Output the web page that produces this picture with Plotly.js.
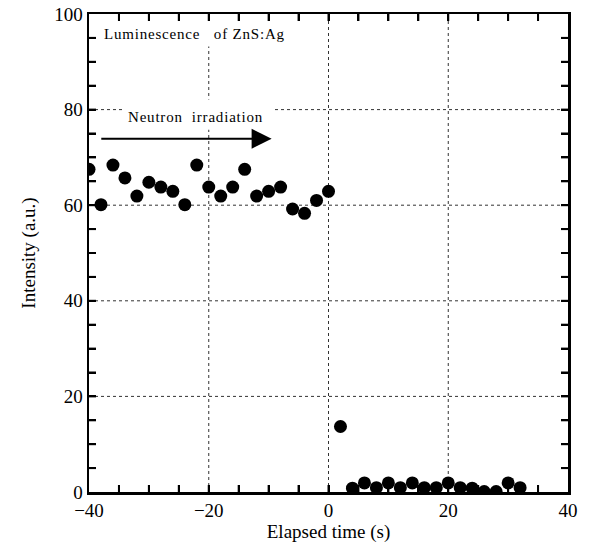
<!DOCTYPE html>
<html>
<head>
<meta charset="utf-8">
<script src="https://cdn.plot.ly/plotly-3.0.1.min.js"></script>
<style>
html,body{margin:0;padding:0;background:#fff;}
.annotation-text{letter-spacing:0.8px;}
</style>
</head>
<body>
<div id="chart" style="width:590px;height:548px;"></div>
<script>
// Elapsed time (s)
const timeS = [-40,-38,-36,-34,-32,-30,-28,-26,-24,-22,-20,-18,-16,-14,-12,-10,-8,-6,-4,-2,0,
               2,4,6,8,10,12,14,16,18,20,22,24,26,28,30,32];
// Intensity (a.u.)
const intensity = [67.5,60.1,68.4,65.7,61.9,64.8,63.8,62.9,60.1,68.4,63.8,61.9,63.8,67.5,61.9,62.9,63.8,59.2,58.3,61.0,62.9,
                   13.7,0.8,1.9,0.9,1.9,0.9,1.9,0.9,0.9,1.9,0.9,0.8,0.1,0.1,1.9,0.9];
const xTicks = [-40,-20,0,20,40];
const yTicks = [0,20,40,60,80,100];
const minorStep = 5;

const FONT = '"Liberation Serif", "Times New Roman", Times, serif';

const trace = {
  x: timeS, y: intensity, type: 'scatter', mode: 'markers',
  marker: {color: '#000', size: 13},
  hoverinfo: 'skip'
};

function axisCommon(ticks) {
  return {
    range: [ticks[0], ticks[ticks.length - 1]],
    tick0: ticks[0], dtick: ticks[1] - ticks[0],
    showline: true, linecolor: '#000', linewidth: 2.5, mirror: 'ticks',
    ticks: 'inside', ticklen: 7, tickwidth: 2, tickcolor: '#000',
    showgrid: false, zeroline: false,
    tickfont: {family: FONT, size: 19, color: '#000'},
    minor: {dtick: minorStep, ticks: 'inside', ticklen: 7, tickwidth: 2, tickcolor: '#000', showgrid: false}
  };
}

const shapes = [];
// dotted grid lines at interior major ticks
const gridLine = {color: '#333', width: 1, dash: 'dot'};
xTicks.slice(1, -1).forEach(v => shapes.push({type: 'line', xref: 'x', yref: 'paper',
  x0: v, x1: v, y0: 0, y1: 1, line: gridLine, layer: 'below'}));
yTicks.slice(1, -1).forEach(v => shapes.push({type: 'line', xref: 'paper', yref: 'y',
  x0: 0, x1: 1, y0: v, y1: v, line: gridLine, layer: 'below'}));
// white boxes behind the two labels
shapes.push({type: 'rect', xref: 'x', yref: 'y', x0: -38.5, x1: -7, y0: 93.2, y1: 99.6,
  fillcolor: '#fff', line: {width: 0}, layer: 'below'});
shapes.push({type: 'rect', xref: 'x', yref: 'y', x0: -34.4, x1: -9.0, y0: 75.8, y1: 82.1,
  fillcolor: '#fff', line: {width: 0}, layer: 'below'});
// inside tick marks on all four sides (every minorStep)
const tickLine = {color: '#000', width: 2};
const TL = 7;
for (let v = xTicks[0] + minorStep; v < xTicks[xTicks.length - 1]; v += minorStep) {
  shapes.push({type: 'line', xref: 'x', yref: 'paper', ysizemode: 'pixel', yanchor: 0,
    x0: v, x1: v, y0: 0, y1: TL, line: tickLine, layer: 'above'});
  shapes.push({type: 'line', xref: 'x', yref: 'paper', ysizemode: 'pixel', yanchor: 1,
    x0: v, x1: v, y0: 0, y1: -TL, line: tickLine, layer: 'above'});
}
for (let v = yTicks[0] + minorStep; v < yTicks[yTicks.length - 1]; v += minorStep) {
  shapes.push({type: 'line', xref: 'paper', yref: 'y', xsizemode: 'pixel', xanchor: 0,
    x0: 0, x1: TL, y0: v, y1: v, line: tickLine, layer: 'above'});
  shapes.push({type: 'line', xref: 'paper', yref: 'y', xsizemode: 'pixel', xanchor: 1,
    x0: 0, x1: -TL, y0: v, y1: v, line: tickLine, layer: 'above'});
}

const layout = {
  width: 590, height: 548,
  margin: {l: 89, r: 22, t: 14, b: 56},
  paper_bgcolor: '#fff', plot_bgcolor: '#fff',
  showlegend: false,
  font: {family: FONT, color: '#000'},
  xaxis: Object.assign(axisCommon(xTicks), {
    title: {text: 'Elapsed time (s)', font: {family: FONT, size: 19, color: '#000'}, standoff: 4}
  }),
  yaxis: Object.assign(axisCommon(yTicks), {
    title: {text: 'Intensity (a.u.)', font: {family: FONT, size: 19, color: '#000'}, standoff: 14}
  }),
  shapes: shapes,
  annotations: [
    {text: 'Luminescence\u00A0\u00A0\u00A0of\u00A0ZnS:Ag', xref: 'x', yref: 'y', x: -37.9, y: 95.9,
     xanchor: 'left', yanchor: 'middle', showarrow: false,
     font: {family: FONT, size: 15, color: '#000'}},
    {text: 'Neutron\u00A0\u00A0irradiation', xref: 'x', yref: 'y', x: -33.9, y: 78.5,
     xanchor: 'left', yanchor: 'middle', showarrow: false,
     font: {family: FONT, size: 15, color: '#000'}},
    {text: '', xref: 'x', yref: 'y', axref: 'x', ayref: 'y',
     x: -9.5, y: 73.9, ax: -38.2, ay: 73.9,
     showarrow: true, arrowhead: 2, arrowsize: 2, arrowwidth: 2, arrowcolor: '#000', standoff: 0}
  ]
};

Plotly.newPlot('chart', [trace], layout, {displayModeBar: false, staticPlot: true});
</script>
</body>
</html>
